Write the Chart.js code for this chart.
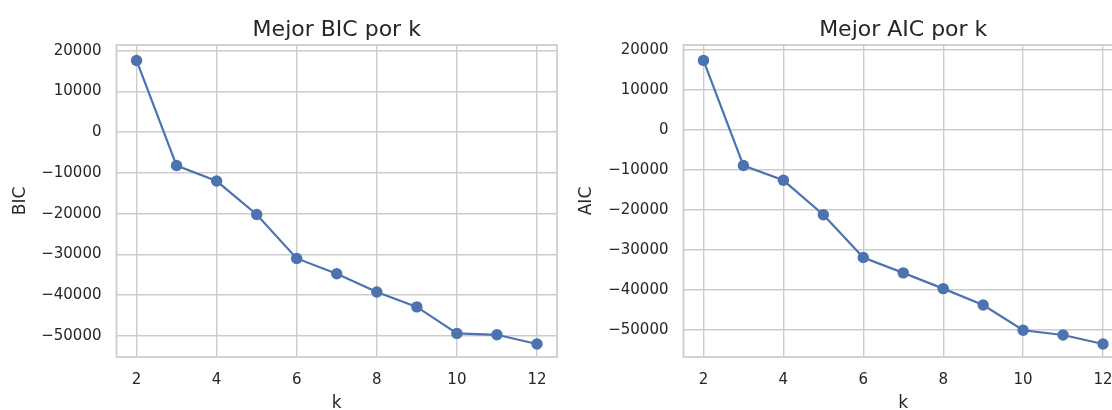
<!DOCTYPE html>
<html>
<head>
<meta charset="utf-8">
<script src="https://cdn.jsdelivr.net/npm/chart.js@4"></script>
<style>
  html, body { margin: 0; padding: 0; background: #fff; }
  body { width: 1112px; height: 410px; overflow: hidden; position: relative; }
  .panel { position: absolute; top: 0; }
</style>
</head>
<body>
<div class="panel" style="left:0px"><canvas id="bic" width="560" height="430"></canvas></div>
<div class="panel" style="left:560px"><canvas id="aic" width="570" height="430"></canvas></div>
<script>
// values
const ks = [2, 3, 4, 5, 6, 7, 8, 9, 10, 11, 12];
const bicValues = [17600, -8200, -12000, -20200, -31000, -34750, -39250, -42900, -49400, -49750, -52000];
const aicValues = [17400, -8900, -12600, -21200, -31900, -35750, -39700, -43800, -50100, -51300, -53550];
const xTicks = [2, 4, 6, 8, 10, 12];
const yTicks = [-50000, -40000, -30000, -20000, -10000, 0, 10000, 20000];

const ink = "#262626";
const gridColor = "#cccccc";
const blue = "#4C72B0";
const font = "DejaVu Sans";

function fmt(v) {
  return v < 0 ? "\u2212" + Math.abs(v) : String(v);
}

// seaborn whitegrid draws all four spines
const frame = {
  id: "frame",
  afterDraw(chart) {
    const a = chart.chartArea;
    const c = chart.ctx;
    c.save();
    c.strokeStyle = gridColor;
    c.lineWidth = 1.75;
    c.strokeRect(a.left, a.top, a.right - a.left, a.bottom - a.top);
    c.restore();
  },
};

function makeChart(id, title, yLabel, values, opt) {
  new Chart(document.getElementById(id), {
    type: "line",
    data: {
      datasets: [{
        data: ks.map((k, i) => ({ x: k, y: values[i] })),
        borderColor: blue,
        backgroundColor: blue,
        borderWidth: 2.2,
        pointRadius: 5.7,
        pointBorderWidth: 0,
        pointBackgroundColor: blue,
        tension: 0,
      }],
    },
    options: {
      responsive: false,
      animation: false,
      layout: { autoPadding: false, padding: { left: 0, right: opt.padRight, top: 0, bottom: 0 } },
      plugins: {
        legend: { display: false },
        tooltip: { enabled: false },
        title: {
          display: true,
          text: title,
          fullSize: false,
          color: ink,
          font: { family: font, size: 22, weight: "normal", lineHeight: 1.2 },
          padding: { top: 17, bottom: 1.6 },
        },
      },
      scales: {
        x: {
          type: "linear",
          min: 1.5,
          max: 12.5,
          afterBuildTicks: (s) => { s.ticks = xTicks.map((v) => ({ value: v })); },
          afterFit: (s) => { s.height = 73; s.paddingLeft = 0; s.paddingRight = 0; },
          ticks: { color: ink, font: { family: font, size: 15 }, padding: 14, maxRotation: 0 },
          grid: { color: gridColor, lineWidth: 1.4, drawTicks: false },
          border: { display: false },
          title: {
            display: true,
            text: "k",
            color: ink,
            font: { family: font, size: 17 },
            padding: { top: 0, bottom: 16.3 },
          },
        },
        y: {
          min: opt.yMin,
          max: opt.yMax,
          afterBuildTicks: (s) => { s.ticks = yTicks.map((v) => ({ value: v })); },
          afterFit: (s) => { s.width = opt.axisWidth; s.paddingTop = 0; s.paddingBottom = 0; },
          ticks: { color: ink, font: { family: font, size: 15 }, padding: 15, callback: fmt },
          grid: { color: gridColor, lineWidth: 1.4, drawTicks: false },
          border: { display: false },
          title: {
            display: true,
            text: yLabel,
            color: ink,
            font: { family: font, size: 17 },
            padding: { top: opt.yTitlePad, bottom: 0 },
          },
        },
      },
    },
    plugins: [frame],
  });
}

makeChart("bic", "Mejor BIC por k", "BIC", bicValues,
  { yMin: -55200, yMax: 21400, axisWidth: 116.5, padRight: 3, yTitlePad: 10.8 });
makeChart("aic", "Mejor AIC por k", "AIC", aicValues,
  { yMin: -56800, yMax: 21250, axisWidth: 123.5, padRight: 7, yTitlePad: 16.3 });
</script>
</body>
</html>
